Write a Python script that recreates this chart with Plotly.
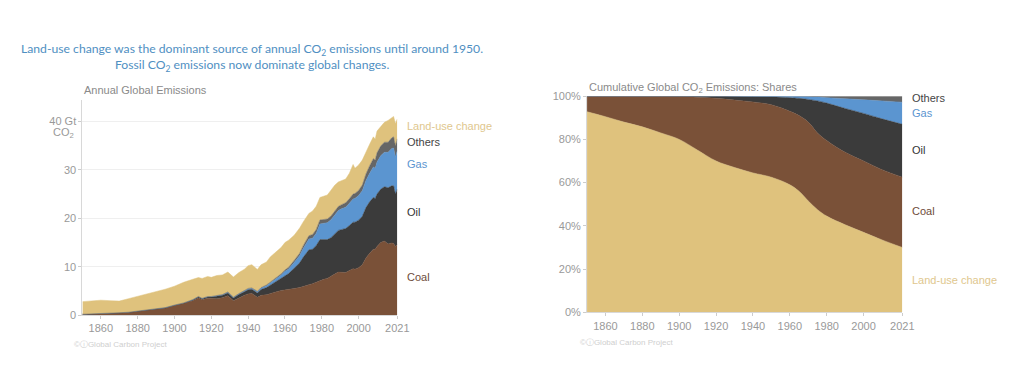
import plotly.graph_objects as go

# ---------------- Annual global emissions (Gt CO2) ----------------
years = [1850, 1855, 1860, 1865, 1870, 1875, 1880, 1885, 1890, 1895, 1900, 1905, 1910, 1913, 1915,
         1918, 1920, 1923, 1926, 1929, 1932, 1935, 1938, 1940, 1942, 1945, 1947, 1950, 1952, 1955,
         1958, 1960, 1962, 1965, 1968, 1970, 1973, 1975, 1977, 1979, 1981, 1983, 1985, 1987, 1989,
         1991, 1993, 1995, 1997, 1998, 2000, 2002, 2004, 2006, 2008, 2009, 2010, 2012, 2014, 2016,
         2018, 2019, 2020, 2021]
coal = [0.2, 0.25, 0.35, 0.4, 0.5, 0.6, 0.85, 1.0, 1.3, 1.5, 2.0, 2.4, 3.0, 3.6, 3.2,
        3.5, 3.4, 3.4, 3.6, 4.0, 3.0, 3.6, 4.1, 4.4, 4.5, 3.7, 4.1, 4.2, 4.5, 4.8,
        5.1, 5.2, 5.2, 5.5, 5.7, 6.0, 6.3, 6.5, 6.8, 7.2, 7.4, 7.6, 8.1, 8.5, 8.9,
        8.9, 8.8, 9.2, 9.6, 9.5, 9.8, 10.4, 11.8, 12.8, 13.6, 13.6, 14.2, 15.0, 15.3, 14.7,
        14.9, 14.8, 14.2, 14.6]
oil = [0, 0, 0, 0, 0.01, 0.01, 0.02, 0.03, 0.04, 0.05, 0.07, 0.1, 0.15, 0.2, 0.2,
       0.25, 0.35, 0.45, 0.5, 0.6, 0.55, 0.65, 0.8, 0.85, 0.85, 0.9, 1.2, 1.5, 1.7, 2.1,
       2.5, 3.0, 3.4, 4.2, 5.1, 6.0, 7.2, 7.1, 7.6, 8.4, 8.2, 8.0, 7.9, 8.2, 8.6,
       8.8, 9.1, 9.3, 9.6, 9.7, 9.8, 10.0, 10.4, 10.6, 10.7, 10.5, 10.8, 11.0, 11.2, 11.6,
       11.8, 11.9, 10.8, 11.4]
gas = [0, 0, 0, 0, 0, 0, 0, 0.01, 0.01, 0.02, 0.02, 0.03, 0.05, 0.05, 0.06,
       0.07, 0.08, 0.1, 0.12, 0.15, 0.13, 0.15, 0.18, 0.2, 0.2, 0.25, 0.3, 0.4, 0.45, 0.55,
       0.7, 0.85, 0.95, 1.2, 1.5, 1.8, 2.2, 2.3, 2.5, 3.2, 3.4, 3.5, 3.7, 3.9, 4.1,
       4.3, 4.4, 4.6, 4.8, 4.9, 5.1, 5.3, 5.6, 5.9, 6.3, 6.2, 6.6, 6.9, 7.1, 7.3,
       7.7, 7.8, 7.6, 8.0]
others = [0, 0, 0, 0, 0, 0, 0, 0, 0, 0, 0, 0.01, 0.02, 0.02, 0.02,
          0.03, 0.03, 0.04, 0.04, 0.05, 0.05, 0.06, 0.07, 0.08, 0.08, 0.08, 0.1, 0.15, 0.17, 0.2,
          0.25, 0.3, 0.34, 0.4, 0.5, 0.6, 0.7, 0.75, 0.8, 0.85, 0.8, 0.75, 0.75, 0.8, 0.85,
          0.85, 0.9, 0.95, 1.0, 1.0, 1.05, 1.15, 1.35, 1.55, 1.7, 1.75, 1.9, 2.0, 2.1, 2.1,
          2.2, 2.3, 2.3, 2.4]
land_use = [2.6, 2.65, 2.75, 2.6, 2.4, 2.8, 3.0, 3.3, 3.45, 3.8, 3.9, 4.25, 4.2, 3.9, 4.1,
            4.15, 3.95, 4.2, 4.05, 4.1, 4.15, 4.35, 4.35, 4.7, 4.8, 4.5, 4.7, 4.75, 5.2, 5.35,
            5.45, 5.65, 5.6, 5.2, 5.2, 4.9, 4.6, 4.85, 4.8, 4.65, 4.7, 4.95, 5.35, 5.4, 5.05,
            4.95, 4.9, 5.25, 6.1, 5.2, 5.25, 5.15, 4.65, 4.45, 4.5, 4.25, 4.5, 4.1, 4.1, 4.5,
            4.2, 4.2, 4.6, 4.1]

# ---------------- Cumulative shares (%) ----------------
cum_years = [1850, 1860, 1870, 1880, 1890, 1900, 1910, 1920, 1930, 1940, 1950, 1960, 1965,
             1970, 1975, 1980, 1990, 2000, 2010, 2021]
share_land_use = [92.8, 90.5, 88.0, 85.8, 83.0, 80.0, 75.0, 70.0, 67.0, 64.5, 62.5, 59.0, 56.0,
                  51.5, 47.5, 44.5, 40.5, 37.0, 33.5, 30.0]
share_coal = [7.2, 9.5, 12.0, 14.2, 16.95, 19.85, 24.5, 29.0, 31.2, 32.8, 33.5, 34.0, 35.0,
              36.5, 35.5, 35.0, 33.5, 33.0, 32.5, 32.5]
share_oil = [0, 0, 0, 0, 0.05, 0.13, 0.45, 0.9, 1.65, 2.4, 3.6, 6.3, 8.0,
             10.5, 14.8, 17.3, 20.3, 22.0, 23.5, 24.5]
share_gas = [0, 0, 0, 0, 0, 0.02, 0.05, 0.08, 0.12, 0.25, 0.33, 0.6, 0.85,
             1.25, 1.75, 2.5, 4.5, 6.3, 8.3, 10.2]
share_others = [0, 0, 0, 0, 0, 0, 0, 0.02, 0.03, 0.05, 0.07, 0.1, 0.15,
                0.25, 0.45, 0.7, 1.2, 1.7, 2.2, 2.8]

x_ticks = [1860, 1880, 1900, 1920, 1940, 1960, 1980, 2000, 2021]

C_LUC = "#dfc27d"
C_COAL = "#7a5138"
C_OIL = "#3b3b3b"
C_GAS = "#5b95d0"
C_OTH = "#666666"

fig = go.Figure()

def add_stack(x, y, color, group, xa, ya, shape):
    fig.add_trace(go.Scatter(x=x, y=y, mode="lines", stackgroup=group,
                             line=dict(width=0.5, color=color, shape=shape),
                             fillcolor=color, xaxis=xa, yaxis=ya,
                             hoverinfo="x+y", showlegend=False))

for vals, col in [(coal, C_COAL), (oil, C_OIL), (gas, C_GAS), (others, C_OTH), (land_use, C_LUC)]:
    add_stack(years, vals, col, "a", "x", "y", "linear")

for vals, col in [(share_land_use, C_LUC), (share_coal, C_COAL), (share_oil, C_OIL),
                  (share_gas, C_GAS), (share_others, C_OTH)]:
    add_stack(cum_years, vals, col, "b", "x2", "y2", "spline")

W, H = 1024, 391
def px(x):
    return x / W
def py(y):
    return 1 - y / H

tickfont = dict(family="Liberation Sans, Arial, sans-serif", size=11, color="#999999")

fig.update_layout(
    width=W, height=H,
    margin=dict(l=0, r=0, t=0, b=0),
    paper_bgcolor="white", plot_bgcolor="white",
    showlegend=False,
    xaxis=dict(domain=[px(83.4), px(402)], range=[1850, 2021], tickvals=x_ticks,
               ticks="outside", ticklen=3, tickcolor="#cccccc", showgrid=False,
               showline=True, linecolor="#d8d8d8", tickfont=tickfont, zeroline=False,
               anchor="y"),
    yaxis=dict(domain=[py(319), py(96.5)], range=[0, 44.5], tickvals=[0, 10, 20, 30, 40],
               ticktext=["0", "10", "20", "30", "40 Gt"],
               ticks="outside", ticklen=3, tickcolor="#cccccc", showgrid=True,
               gridcolor="#efefef", showline=True, linecolor="#d8d8d8", tickfont=tickfont,
               zeroline=False, anchor="x"),
    xaxis2=dict(domain=[px(594), px(913)], range=[1850, 2021], tickvals=x_ticks,
                ticks="outside", ticklen=3, tickcolor="#cccccc", showgrid=False,
                showline=True, linecolor="#d8d8d8", tickfont=tickfont, zeroline=False,
                anchor="y2"),
    yaxis2=dict(domain=[py(316), py(93)], range=[0, 100], tickvals=[0, 20, 40, 60, 80, 100],
                ticktext=["0%", "20%", "40%", "60%", "80%", "100%"],
                ticks="outside", ticklen=3, tickcolor="#cccccc", showgrid=False,
                showline=True, linecolor="#d8d8d8", tickfont=tickfont, zeroline=False,
                anchor="x2"),
)

ann = []
def add_text(x, y, text, color, size=11, family="Liberation Sans, Arial, sans-serif",
             xanchor="left"):
    ann.append(dict(x=px(x), y=py(y), xref="paper", yref="paper", text=text,
                    showarrow=False, xanchor=xanchor, yanchor="middle",
                    font=dict(family=family, size=size, color=color)))

title_font = "Lato, Open Sans, sans-serif"
add_text(255, 45, "Land-use change was the dominant source of annual CO<sub>2</sub> emissions until around 1950.",
         "#4f8fc2", size=12.2, family=title_font, xanchor="center")
add_text(255, 61, "Fossil CO<sub>2</sub> emissions now dominate global changes.",
         "#4f8fc2", size=12.2, family=title_font, xanchor="center")

add_text(83, 87, "Annual Global Emissions", "#8a8a8a", size=11)
add_text(594, 85, "Cumulative Global CO<sub>2</sub> Emissions: Shares", "#8a8a8a", size=11)
add_text(77, 131, "CO<sub>2</sub>", "#999999", size=11, xanchor="right")

# left series labels
add_text(410, 124, "Land-use change", "#e0c78e", size=11)
add_text(410, 140, "Others", "#444444", size=11)
add_text(410, 163, "Gas", "#5b95d0", size=11)
add_text(410, 213, "Oil", "#333333", size=11)
add_text(410, 280, "Coal", "#6e4c3a", size=11)

# right series labels
add_text(921, 95, "Others", "#444444", size=11)
add_text(921, 110, "Gas", "#5b95d0", size=11)
add_text(921, 149, "Oil", "#333333", size=11)
add_text(921, 212, "Coal", "#6e4c3a", size=11)
add_text(921, 283, "Land-use change", "#e0c78e", size=11)

# footers
add_text(73, 349, "©ⓘGlobal Carbon Project", "#cfcfcf", size=8)
add_text(585, 347, "©ⓘGlobal Carbon Project", "#cfcfcf", size=8)

fig.update_layout(annotations=ann)
# remove the browser's default 8px body margin so the 1024x391 figure fills the window
fig.write_html("out.html",
               config={"displayModeBar": False},
               post_script="document.body.style.margin='0';document.body.style.overflow='hidden';")
